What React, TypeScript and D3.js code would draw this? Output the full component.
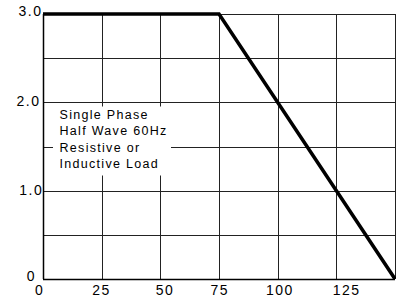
import { useEffect, useRef } from 'react';
import * as d3 from 'd3';

// derating curve: current (A) vs temperature (°C)
const curveX = [0, 75, 150];
const curveY = [3.0, 3.0, 0];
const xTicks = [0, 25, 50, 75, 100, 125, 150];
const xTickLabels = ['0', '25', '50', '75', '100', '125', ''];
const yGrid = [0, 0.5, 1.0, 1.5, 2.0, 2.5, 3.0];
const yTickLabels = ['0', '', '1.0', '', '2.0', '', '3.0'];
const noteLines = ['Single Phase', 'Half Wave 60Hz', 'Resistive or', 'Inductive Load'];

export default function App() {
  const svgRef = useRef<SVGSVGElement>(null);

  useEffect(() => {
    const width = 396;
    const height = 300;
    const margin = { top: 14, right: 1, bottom: 21, left: 43 };

    const svg = d3.select(svgRef.current);
    svg.selectAll('*').remove();
    svg.attr('width', width).attr('height', height);

    const x = d3.scaleLinear().domain([0, 150]).range([margin.left, width - margin.right]);
    const y = d3.scaleLinear().domain([0, 3]).range([height - margin.bottom, margin.top]);

    const font = 'Liberation Sans, Arial, sans-serif';
    const ls = 1.5; // tick label letter spacing

    // label nudges, the source placed them a bit loosely
    const xNudge = [-4, -1, 4, 0, 1.5, 9.5, 0];
    const yNudgeX = [-8.5, 0, -1.3, 0, -4, 0, -2];
    const yNudgeY = [2, 0, 4.5, 0, 3.4, 0, 2];

    // grid
    svg.append('g')
      .selectAll('line')
      .data(xTicks)
      .enter()
      .append('line')
      .attr('x1', d => Math.round(x(d)) + 0.5)
      .attr('x2', d => Math.round(x(d)) + 0.5)
      .attr('y1', y(3))
      .attr('y2', y(0))
      .attr('stroke', '#222')
      .attr('stroke-width', 1);

    svg.append('g')
      .selectAll('line')
      .data(yGrid)
      .enter()
      .append('line')
      .attr('x1', x(0))
      .attr('x2', x(150))
      .attr('y1', d => Math.round(y(d)) + 0.5)
      .attr('y2', d => Math.round(y(d)) + 0.5)
      .attr('stroke', '#222')
      .attr('stroke-width', 1);

    // axis lines a bit heavier
    svg.append('line')
      .attr('x1', x(0)).attr('x2', x(150))
      .attr('y1', y(0) + 0.5).attr('y2', y(0) + 0.5)
      .attr('stroke', '#000').attr('stroke-width', 1.5);
    svg.append('line')
      .attr('x1', x(0) + 0.5).attr('x2', x(0) + 0.5)
      .attr('y1', y(3)).attr('y2', y(0))
      .attr('stroke', '#000').attr('stroke-width', 1.5);

    // note box (white patch over the grid)
    const note = svg.append('g');
    note.append('rect')
      .attr('x', 53)
      .attr('y', 106.5)
      .attr('width', 118)
      .attr('height', 69)
      .attr('fill', '#fff');
    note.selectAll('text')
      .data(noteLines)
      .enter()
      .append('text')
      .attr('x', 59.5)
      .attr('y', (d, i) => 119 + i * 16.3)
      .style('font-family', font)
      .style('font-size', '12.5px')
      .style('letter-spacing', '1.3px')
      .style('fill', '#000')
      .text(d => d);

    // curve
    const pts = curveX.map((d, i) => [d, curveY[i]] as [number, number]);
    const line = d3.line<[number, number]>()
      .x(d => x(d[0]))
      .y(d => y(d[1]));
    svg.append('path')
      .attr('d', line(pts))
      .attr('fill', 'none')
      .attr('stroke', '#000')
      .attr('stroke-width', 3.5)
      .attr('stroke-linejoin', 'miter');

    // y labels
    svg.append('g')
      .selectAll('text')
      .data(yGrid)
      .enter()
      .append('text')
      .attr('x', (d, i) => x(0) + ls + yNudgeX[i])
      .attr('y', (d, i) => y(d) + yNudgeY[i])
      .attr('text-anchor', 'end')
      .style('font-family', font)
      .style('font-size', '14px')
      .style('letter-spacing', `${ls}px`)
      .style('fill', '#000')
      .text((d, i) => yTickLabels[i]);

    // x labels
    svg.append('g')
      .selectAll('text')
      .data(xTicks)
      .enter()
      .append('text')
      .attr('x', (d, i) => x(d) + ls / 2 + xNudge[i])
      .attr('y', 294.5)
      .attr('text-anchor', 'middle')
      .style('font-family', font)
      .style('font-size', '14px')
      .style('letter-spacing', `${ls}px`)
      .style('fill', '#000')
      .text((d, i) => xTickLabels[i]);
  }, []);

  return (
    <div style={{ position: 'absolute', left: 0, top: 0, background: '#fff' }}>
      <svg ref={svgRef} style={{ display: 'block' }}></svg>
    </div>
  );
}
